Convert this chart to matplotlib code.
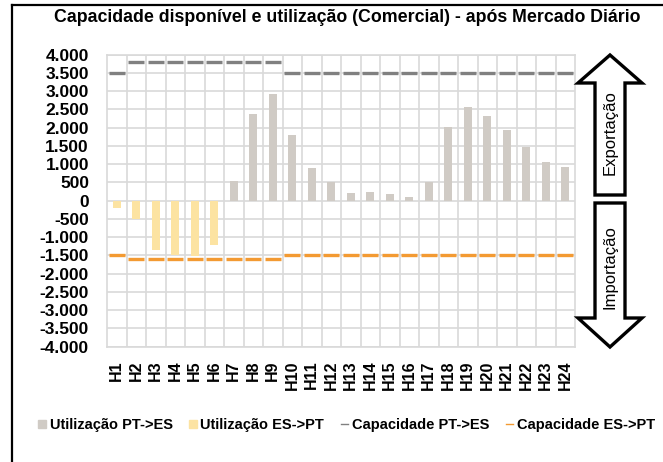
import matplotlib
matplotlib.use("Agg")
import matplotlib.pyplot as plt
from matplotlib.patches import Polygon
from matplotlib.lines import Line2D
import numpy as np

plt.rcParams['font.family'] = ['Liberation Sans', 'DejaVu Sans']

hours = ["H%d" % i for i in range(1, 25)]
util_pt_es = [0, 0, 0, 0, 0, 0, 550, 2375, 2920, 1790, 895, 500, 210, 228, 183, 100,
              515, 2010, 2557, 2320, 1936, 1470, 1068, 922]
util_es_pt = [-200, -495, -1360, -1480, -1505, -1205, 0, 0, 0, 0, 0, 0, 0, 0, 0, 0,
              0, 0, 0, 0, 0, 0, 0, 0]
cap_pt_es = [3500] + [3800] * 8 + [3500] * 15
cap_es_pt = [-1500] + [-1600] * 8 + [-1500] * 15
yticks = list(range(-4000, 4001, 500))
ytick_labels = [("{:,}".format(v)).replace(",", ".") for v in yticks]
title = "Capacidade disponível e utilização (Comercial) - após Mercado Diário"
legend_labels = ["Utilização PT->ES", "Utilização ES->PT", "Capacidade PT->ES", "Capacidade ES->PT"]

W, H = 663, 462
fig = plt.figure(figsize=(W / 100, H / 100), dpi=100)

def fx(px):
    return px / W

def fy(py):
    return 1 - py / H

ax = fig.add_axes([fx(107), fy(346.7), fx(575) - fx(107), fy(54.7) - fy(346.7)])

c_gray_bar = "#D0CBC5"
c_yellow_bar = "#FCE3A2"
c_cap_gray = "#808080"
c_cap_orange = "#F39A32"
grid_c = "#D9D9D9"

x = np.arange(len(hours))
ax.bar(x, util_pt_es, width=0.4, color=c_gray_bar, zorder=3)
ax.bar(x, util_es_pt, width=0.4, color=c_yellow_bar, zorder=3)
ax.hlines(cap_pt_es, x - 0.42, x + 0.42, colors=c_cap_gray, lw=2.4, zorder=4)
ax.hlines(cap_es_pt, x - 0.42, x + 0.42, colors=c_cap_orange, lw=2.4, zorder=4)

ax.set_xlim(-0.5, len(hours) - 0.5)
ax.set_ylim(-4000, 4000)
ax.set_yticks(yticks)
ax.set_yticklabels(ytick_labels, fontsize=12.5, fontweight='bold')
ax.set_xticks(x)
ax.set_xticklabels(hours, rotation=90, fontsize=11.5, fontweight='bold', va='top', ha='center')
ax.tick_params(axis='both', length=0)
ax.tick_params(axis='x', pad=10)
ax.tick_params(axis='y', pad=13)
for v in yticks:
    ax.axhline(v, color=grid_c, lw=1.2, zorder=1)
for b in np.arange(0.5, len(hours) - 0.5, 1):
    ax.axvline(b, color=grid_c, lw=1.2, zorder=1)
for s in ax.spines.values():
    s.set_color(grid_c)
    s.set_linewidth(1.2)

fig.text(fx(347), fy(17), title, ha='center', va='center', fontsize=12.8, fontweight='bold')

# border lines
fig.add_artist(Line2D([fx(12), fx(12)], [fy(5), fy(462)], color='black', lw=1.6, transform=fig.transFigure))
fig.add_artist(Line2D([fx(12), fx(663)], [fy(5), fy(5)], color='black', lw=1.6, transform=fig.transFigure))

# arrows
exp_pts = [(610, 55), (642, 83), (625, 83), (625, 195), (595, 195), (595, 83), (578, 83)]
imp_pts = [(595, 203), (625, 203), (625, 318), (642, 318), (610, 347), (578, 318), (595, 318)]
for pts in (exp_pts, imp_pts):
    poly = Polygon([(fx(a), fy(b)) for a, b in pts], closed=True, fill=True, facecolor='white',
                   edgecolor='black', lw=2.4, joinstyle='miter', transform=fig.transFigure)
    fig.add_artist(poly)
fig.text(fx(610), fy(132.5), "Exportação", rotation=90, ha='center', va='center', fontsize=12)
fig.text(fx(610), fy(267.5), "Importação", rotation=90, ha='center', va='center', fontsize=12)

handles = [
    Line2D([], [], marker='s', color='none', markerfacecolor=c_gray_bar, markeredgecolor=c_gray_bar, markersize=6),
    Line2D([], [], marker='s', color='none', markerfacecolor=c_yellow_bar, markeredgecolor=c_yellow_bar, markersize=6),
    Line2D([], [], color=c_cap_gray, lw=1),
    Line2D([], [], color=c_cap_orange, lw=1),
]
leg = fig.legend(handles, legend_labels, loc='center', bbox_to_anchor=(fx(347), fy(425)), ncol=4,
                 frameon=False, prop={'size': 10.5, 'weight': 'bold'}, handlelength=0.5,
                 handletextpad=0.25, columnspacing=1.15, borderaxespad=0)

fig.savefig("out.png", dpi=100, facecolor='white')
